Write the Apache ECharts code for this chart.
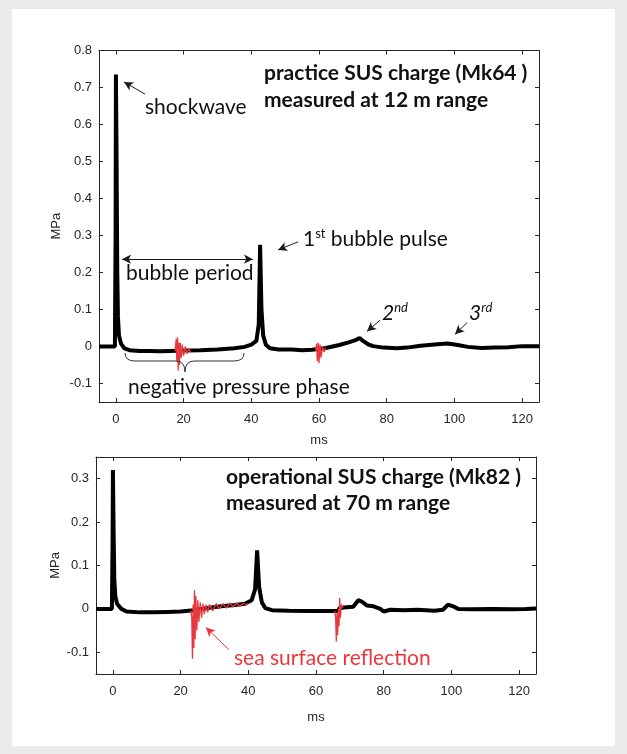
<!DOCTYPE html>
<html>
<head>
<meta charset="utf-8">
<script src="https://cdn.jsdelivr.net/npm/echarts@6/dist/echarts.min.js"></script>
<style>
  html, body { margin: 0; padding: 0; background: #ebebeb; }
  #chart { width: 627px; height: 754px; }
</style>
</head>
<body>
<div id="chart"></div>
<script>
// practice SUS charge (Mk64), 12 m range: [ms, MPa]
const topTrace = [
  [-5, 0], [-0.3, 0], [-0.1, 0.3], [0, 0.735], [0.2, 0.5], [0.4, 0.2], [0.6, 0.08], [0.9, 0.03],
  [1.5, 0.008], [2.5, -0.005], [4, -0.01], [7, -0.012], [10, -0.012], [13, -0.013], [16, -0.012],
  [20, -0.011], [25, -0.01], [30, -0.008], [35, -0.005], [38, -0.001], [40, 0.005], [41.5, 0.015],
  [42.2, 0.06], [42.6, 0.275], [43, 0.1], [43.5, 0.03], [44.3, 0.005], [45.5, -0.005], [48, -0.008],
  [52, -0.008], [55, -0.01], [58, -0.009], [62, -0.004], [66, 0.004], [69, 0.012], [71, 0.018],
  [72, 0.023], [73, 0.015], [74.5, 0.006], [76, 0.001], [79, -0.003], [83, -0.005], [86, -0.003],
  [90, 0.002], [95, 0.006], [98, 0.008], [101, 0.004], [104, -0.001], [108, -0.004], [112, -0.003],
  [116, -0.002], [120, 0.001], [125, 0.001]
];
// red overlay segments (null separates them)
const topRed = [
  [17.5, -0.012], [17.8, 0.02], [18.0, -0.04], [18.2, 0.025], [18.4, -0.065], [18.6, 0.01],
  [18.8, -0.05], [19.0, 0.01], [19.3, -0.03], [19.6, 0.005], [20, -0.025], [20.5, 0], [21, -0.02],
  [21.5, -0.005], [22, -0.015], [null, null],
  [59, -0.01], [59.3, 0.008], [59.5, -0.04], [59.8, 0.01], [60, -0.045], [60.3, 0.005],
  [60.6, -0.03], [61, 0], [61.5, -0.015], [62, -0.003]
];

// operational SUS charge (Mk82), 70 m range
const bottomTrace = [
  [-5, 0], [-0.3, 0], [-0.1, 0.15], [0, 0.32], [0.2, 0.18], [0.4, 0.07], [0.7, 0.03], [1.2, 0.012],
  [2.5, 0], [4, -0.006], [8, -0.008], [12, -0.008], [16, -0.007], [20, -0.006], [24, -0.003],
  [28, 0.002], [32, 0.006], [36, 0.009], [39, 0.012], [41, 0.02], [42, 0.045], [42.6, 0.135],
  [43.2, 0.05], [44, 0.015], [45, 0.002], [47, -0.003], [52, -0.004], [58, -0.005], [63, -0.005],
  [66.5, -0.005], [67, 0.002], [69, 0.004], [71, 0.005], [72.5, 0.02], [73.5, 0.017], [75, 0.008],
  [77, 0.006], [79, 0], [80, -0.006], [82, -0.002], [86, -0.003], [90, -0.002], [95, -0.004],
  [97.5, -0.002], [99, 0.01], [100.5, 0.006], [102, 0], [106, -0.001], [112, 0], [118, -0.001],
  [122, 0], [125, 0.001]
];
const bottomRed = [
  [23, -0.004], [23.3, -0.02], [23.5, -0.115], [23.7, 0.01], [23.9, -0.09], [24.1, 0.043],
  [24.3, -0.07], [24.5, 0.03], [24.8, -0.05], [25.1, 0.02], [25.4, -0.03], [25.8, 0.015],
  [26.2, -0.02], [26.6, 0.012], [27, -0.012], [27.5, 0.01], [28, -0.008], [28.5, 0.01],
  [29.5, -0.004], [30.5, 0.012], [31.5, 0], [32.5, 0.012], [33.5, 0.002], [34.5, 0.014],
  [35.5, 0.004], [36.5, 0.013], [37.5, 0.006], [38.5, 0.013], [39.5, 0.009], [40, 0.013],
  [null, null],
  [65.5, -0.005], [65.8, -0.02], [66, -0.075], [66.2, -0.01], [66.4, -0.06], [66.6, 0],
  [66.8, -0.04], [67, 0.025], [67.2, -0.02], [67.5, 0.01], [68, 0.002]
];

const xTicks = [0, 20, 40, 60, 80, 100, 120];
const topYTicks = [-0.1, 0, 0.1, 0.2, 0.3, 0.4, 0.5, 0.6, 0.7, 0.8];
const bottomYTicks = [-0.1, 0, 0.1, 0.2, 0.3];

const axisColor = '#262626';
const red = '#e8383d';
const txtFont = 'Lato, "Open Sans", sans-serif';

const chart = echarts.init(document.getElementById('chart'));

function xAxes(gridIndex, nameGap) {
  return [
    {
      type: 'value', gridIndex, min: -5, max: 125, position: 'bottom',
      name: 'ms', nameLocation: 'middle', nameGap, nameMoveOverlap: false,
      nameTextStyle: { color: axisColor, fontSize: 13, fontFamily: 'Liberation Sans' },
      axisLine: { onZero: false, lineStyle: { color: axisColor, width: 1 } },
      axisTick: { inside: true, length: 4, customValues: xTicks, lineStyle: { color: axisColor } },
      axisLabel: { customValues: xTicks, color: axisColor, fontSize: 13, fontFamily: 'Liberation Sans', margin: 11 },
      splitLine: { show: false }
    },
    {
      type: 'value', gridIndex, min: -5, max: 125, position: 'top',
      axisLine: { onZero: false, lineStyle: { color: axisColor, width: 1 } },
      axisTick: { inside: true, length: 4, customValues: xTicks, lineStyle: { color: axisColor } },
      axisLabel: { show: false },
      splitLine: { show: false }
    }
  ];
}

function yAxes(gridIndex, min, max, ticks, nameGap) {
  return [
    {
      type: 'value', gridIndex, min, max, position: 'left',
      name: 'MPa', nameLocation: 'middle', nameGap, nameRotate: 90, nameMoveOverlap: false,
      nameTextStyle: { color: axisColor, fontSize: 13, fontFamily: 'Liberation Sans' },
      axisLine: { show: true, onZero: false, lineStyle: { color: axisColor, width: 1 } },
      axisTick: { show: true, inside: true, length: 4, customValues: ticks, lineStyle: { color: axisColor } },
      axisLabel: { customValues: ticks, color: axisColor, fontSize: 13, fontFamily: 'Liberation Sans', margin: 7,
        formatter: v => String(v) },
      splitLine: { show: false }
    },
    {
      type: 'value', gridIndex, min, max, position: 'right',
      axisLine: { show: true, onZero: false, lineStyle: { color: axisColor, width: 1 } },
      axisTick: { show: true, inside: true, length: 4, customValues: ticks, lineStyle: { color: axisColor } },
      axisLabel: { show: false },
      splitLine: { show: false }
    }
  ];
}

function arrow(from, to, both) {
  return [{ coord: from, symbol: both ? 'arrow' : 'none' }, { coord: to, symbol: 'arrow' }];
}

const blackArrowLine = {
  silent: true, symbolSize: [7, 9], animation: false,
  label: { show: false },
  lineStyle: { color: '#1a1a1a', width: 1, type: 'solid' },
  emphasis: { disabled: true }
};

const braceStyle = { stroke: '#333', lineWidth: 1, fill: null };
function braceCurve(x1, y1, cx, cy, x2, y2) {
  return { type: 'bezierCurve', z: 10, shape: { x1, y1, cpx1: cx, cpy1: cy, x2, y2 }, style: braceStyle };
}
function braceLine(x1, y1, x2, y2) {
  return { type: 'line', z: 10, shape: { x1, y1, x2, y2 }, style: braceStyle };
}

function label(text, x, y, opts) {
  opts = opts || {};
  return {
    type: 'text', z: 10, x, y,
    style: {
      text, font: (opts.bold ? 'bold ' : '') + '21px ' + txtFont,
      fill: opts.color || '#111', verticalAlign: 'middle'
    }
  };
}

function supLabel(base, sup, rest, x, y, italic) {
  const fs = italic ? 'italic' : 'normal';
  return {
    type: 'text', z: 10, x, y,
    style: {
      text: '{a|' + base + '}{s|' + sup + '}' + (rest ? '{a|' + rest + '}' : ''),
      verticalAlign: 'middle',
      rich: {
        a: { fontSize: 21, fontStyle: fs, fontFamily: txtFont, lineHeight: 24, fill: '#111' },
        s: { fontSize: 13, fontStyle: fs, fontFamily: txtFont, lineHeight: 13, verticalAlign: 'top', fill: '#111' }
      }
    }
  };
}

const option = {
  animation: false,
  backgroundColor: 'transparent',
  grid: [
    { left: 99, top: 50.5, width: 440, height: 351.5 },
    { left: 96, top: 457, width: 440, height: 217 }
  ],
  xAxis: [...xAxes(0, 32), ...xAxes(1, 37)],
  yAxis: [...yAxes(0, -0.15, 0.8, topYTicks, 36), ...yAxes(1, -0.15, 0.35, bottomYTicks, 34)],
  series: [
    {
      type: 'line', xAxisIndex: 0, yAxisIndex: 0, data: topTrace, showSymbol: false,
      lineStyle: { color: '#000', width: 4 }, z: 3,
      markLine: Object.assign({}, blackArrowLine, {
        data: [
          arrow([8.6, 0.682], [2.4, 0.715]),
          arrow([53.8, 0.283], [47.9, 0.261]),
          arrow([78, 0.071], [74.2, 0.041]),
          arrow([103.8, 0.065], [100.2, 0.033]),
          arrow([1.8, 0.236], [40.5, 0.236], true)
        ]
      })
    },
    {
      type: 'line', xAxisIndex: 0, yAxisIndex: 0, data: topRed, showSymbol: false, connectNulls: false,
      lineStyle: { color: red, width: 1.3 }, z: 4
    },
    {
      type: 'line', xAxisIndex: 2, yAxisIndex: 2, data: bottomTrace, showSymbol: false,
      lineStyle: { color: '#000', width: 4 }, z: 3
    },
    {
      type: 'line', xAxisIndex: 2, yAxisIndex: 2, data: bottomRed, showSymbol: false, connectNulls: false,
      lineStyle: { color: red, width: 1.3 }, z: 4,
      markLine: Object.assign({}, blackArrowLine, {
        lineStyle: { color: red, width: 1, type: 'solid' },
        data: [arrow([34.3, -0.094], [27.5, -0.043])]
      })
    }
  ],
  graphic: [
    { type: 'rect', z: -10, shape: { x: 12, y: 9, width: 603, height: 737 }, style: { fill: '#fff' } },
    // brace under the negative pressure phase
    braceCurve(125, 353, 125, 361, 135, 361),
    braceLine(135, 361, 176, 361),
    braceCurve(176, 361, 185, 361, 185, 372),
    braceCurve(185, 372, 185, 361, 194, 361),
    braceLine(194, 361, 234, 361),
    braceCurve(234, 361, 244, 361, 244, 353),
    label('practice SUS charge (Mk64 )', 264, 73, { bold: true }),
    label('measured at 12 m range', 264, 100, { bold: true }),
    label('shockwave', 145, 107),
    label('bubble period', 126, 273),
    label('negative pressure phase', 128, 387),
    supLabel('1', 'st', ' bubble pulse', 303, 239, false),
    supLabel('2', 'nd', '', 382, 313, true),
    supLabel('3', 'rd', '', 469, 313, true),
    label('operational SUS charge (Mk82 )', 226, 477, { bold: true }),
    label('measured at 70 m range', 226, 503, { bold: true }),
    label('sea surface reflection', 234, 658, { color: red })
  ]
};

chart.setOption(option);
</script>
</body>
</html>
